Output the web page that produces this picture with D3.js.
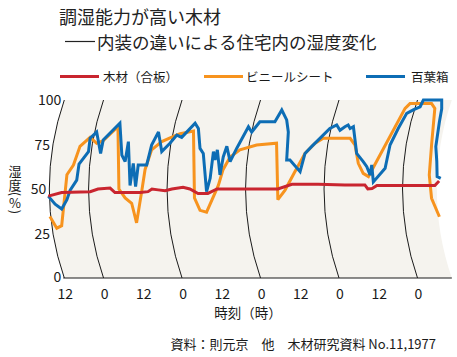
<!DOCTYPE html>
<html><head><meta charset="utf-8">
<script src="https://cdn.jsdelivr.net/npm/d3@7"></script>
<style>
html,body{margin:0;padding:0;background:#fff;}
svg{display:block;font-family:"Noto Sans CJK JP","Noto Sans",sans-serif;}
</style></head>
<body>
<script>
// ---- data (hours from first midnight, humidity %) ----
const seriesNames = ["木材（合板）", "ビニールシート", "百葉箱"];
const seriesColors = ["#c9252f", "#f7931e", "#0d6db5"];

const woodHours = [-16.9,-12.8,-4.1,-1.7,2.0,3.5,11.2,13.6,14.8,16.7,18.8,20.9,24.3,26.4,28.9,31.9,34.7,53.3,57.6,65.6,73.8,79.9,80.8,82.1,83.6,101.3,102.6];
const woodValues = [46,48,48.5,50,50.5,48,48,48.5,50,49.5,49,50,51,50,47.5,47.5,50,50,52.6,52.6,52.3,52.3,50,50.3,52,52,54.5];

const vinylHours = [-16.4,-14.3,-12.8,-11.2,-9.2,-7.2,-4.1,-2.1,-0.2,4.4,4.7,6.6,8.6,10.1,11.7,12.7,14.7,17.8,21.9,23.4,27.5,27.8,29.5,31.5,35.1,36.5,38.7,41.7,46.8,52.9,53.3,55.5,58.5,61.6,64.7,67.2,75.4,76.9,77.9,79.4,81.0,92.2,93.7,100.3,101.3,100.3,99.6,100.3,102.7];
const vinylValues = [34.5,28,29.4,58,63.5,74,79,75.7,77,85,50,45,42,31,49,61,72,76.6,80,81,82.5,45,38,37,52,60.7,68,72,74.7,75.7,44,49.4,59.7,70,75.7,78.5,78.5,74.7,64.4,58.8,57,95.3,98,98,95.3,74.7,57.9,44.8,34.4];

const boxHours = [-16.9,-14.8,-12.8,-11.2,-10.2,-8.2,-7.5,-4.6,-4.1,-2.1,-0.9,-0.1,5.0,5.6,6.6,7.6,8.1,9.1,9.8,10.6,13.2,14.7,16.8,17.8,20.3,22.4,23.9,28.0,29.0,29.5,30.5,31.5,32.6,33.6,34.1,34.8,35.6,36.6,37.7,38.7,40.7,44.3,45.3,47.8,52.4,54.5,56.0,56.5,56.0,57.0,60.1,61.6,63.6,66.7,69.2,71.3,72.3,73.8,74.8,75.4,76.4,77.4,79.4,80.5,81.5,82.0,82.5,86.1,87.6,90.1,92.7,94.7,96.8,97.8,103.4,103.4,102.7,101.6,101.9,102.0,103.1];
const boxValues = [46,41.5,38.8,44,49.4,55,64,71,78.5,82,70,77.5,87,69,65.4,76.6,52,64.4,51.3,63.5,63.5,74.7,82,71,75.7,80.3,79,87,84,72.8,70,48.5,56,71,66.3,72,57.9,68,74,65.4,72.8,85,82,87.8,87.8,94.4,88.8,82,66.3,66.3,59.7,70,73.8,79.4,84,86,83,85,86,84,85,70,65.4,62.5,57.9,63.5,54,61.6,74.7,84,92.5,94.4,96.2,100,100,95,87.8,73.8,65.4,57,56];

const xTickHours = [-12,0,12,24,36,48,60,72,84,96];
const yTicks = [0,25,50,75,100];
const dividerHours = [0,24,48,72,96];

(function(){
const W = 457, H = 357;
const svg = d3.select("body").append("svg").attr("width", W).attr("height", H);

const x = d3.scaleLinear().domain([-12, 96]).range([64.3, 417.5]);
const y = d3.scaleLinear().domain([0, 100]).range([278, 100]);
const yTop = y(100), yBot = y(0), midY = (yTop + yBot) / 2;
const R = 272;
const bow = R - Math.sqrt(R * R - Math.pow((yBot - yTop) / 2, 2));
function arcX(x0, yy) {
  const cx = x0 - bow + R;
  return cx - Math.sqrt(R * R - Math.pow(yy - midY, 2));
}
const leftX = x(-12), rightX = x(106.5);

svg.append("path")
  .attr("d", `M${leftX},${yTop} L${rightX},${yTop} A${R},${R} 0 0 0 ${rightX},${yBot} L${leftX},${yBot} A${R},${R} 0 0 1 ${leftX},${yTop} Z`)
  .attr("fill", "#f5f3ee");

[-12, ...dividerHours].forEach(h => {
  svg.append("path")
    .attr("d", `M${x(h)},${yTop} A${R},${R} 0 0 0 ${x(h)},${yBot}`)
    .attr("fill", "none").attr("stroke", "#1a1a1a").attr("stroke-width", 1);
});

svg.append("line").attr("x1", leftX - 1).attr("x2", rightX).attr("y1", yBot).attr("y2", yBot)
  .attr("stroke", "#1a1a1a").attr("stroke-width", 1.2);

svg.append("g").selectAll("text").data(yTicks).join("text")
  .attr("x", d => arcX(leftX, y(d)) - 3)
  .attr("y", d => y(d) + (d === 0 ? 4 : 5))
  .attr("text-anchor", "end")
  .attr("font-size", 14).attr("fill", "#1a1a1a")
  .text(d => d);

svg.append("g").selectAll("text").data(xTickHours).join("text")
  .attr("x", d => x(d) + 1)
  .attr("y", 298.5)
  .attr("text-anchor", "middle")
  .attr("font-size", 14).attr("fill", "#1a1a1a")
  .text(d => ((d % 24) + 24) % 24);

svg.append("text").attr("x", 248).attr("y", 318).attr("text-anchor", "middle")
  .attr("font-size", 13.5).attr("fill", "#1a1a1a").text("時刻（時）");

// vertical y-axis title: 湿度（%）, stacked character by character
const yt = svg.append("g").attr("fill", "#1a1a1a").attr("font-size", 13);
yt.append("text").attr("x", 15).attr("y", 175.5).attr("text-anchor", "middle").text("湿");
yt.append("text").attr("x", 15).attr("y", 189.5).attr("text-anchor", "middle").text("度");
yt.append("text").attr("transform", "translate(15,194) rotate(90)")
  .attr("text-anchor", "middle").attr("dominant-baseline", "central").text("(");
yt.append("text").attr("x", 15).attr("y", 208).attr("text-anchor", "middle").text("%");
yt.append("text").attr("transform", "translate(15,212) rotate(90)")
  .attr("text-anchor", "middle").attr("dominant-baseline", "central").text(")");

const line = d3.line().x(d => x(d[0])).y(d => y(d[1])).curve(d3.curveLinear);
const seriesData = [
  d3.zip(woodHours, woodValues),
  d3.zip(vinylHours, vinylValues),
  d3.zip(boxHours, boxValues)
];
[1, 2, 0].forEach(i => {
  svg.append("path").datum(seriesData[i])
    .attr("d", line).attr("fill", "none")
    .attr("stroke", seriesColors[i]).attr("stroke-width", 3)
    .attr("stroke-linejoin", "miter").attr("stroke-miterlimit", 3);
});

const legendX = [60, 204, 366];
const legendTextX = [103, 246, 411];
const lg = svg.append("g");
seriesNames.forEach((n, i) => {
  lg.append("line").attr("x1", legendX[i]).attr("x2", legendX[i] + 39)
    .attr("y1", 76.5).attr("y2", 76.5)
    .attr("stroke", seriesColors[i]).attr("stroke-width", 3);
  lg.append("text").attr("x", legendTextX[i]).attr("y", 81.5)
    .attr("font-size", 12.5).attr("fill", "#1a1a1a").text(n);
});

svg.append("text").attr("x", 59).attr("y", 24).attr("font-size", 18).attr("fill", "#222")
  .text("調湿能力が高い木材");
svg.append("line").attr("x1", 65).attr("x2", 95).attr("y1", 41.5).attr("y2", 41.5)
  .attr("stroke", "#222").attr("stroke-width", 1.2);
svg.append("text").attr("x", 97).attr("y", 49).attr("font-size", 17.5).attr("fill", "#222")
  .text("内装の違いによる住宅内の湿度変化");

svg.append("text").attr("x", 436).attr("y", 349).attr("text-anchor", "end")
  .attr("font-size", 13).attr("fill", "#1a1a1a")
  .text("資料：則元京　他　木材研究資料 No.11,1977");
})();
</script>
</body></html>
